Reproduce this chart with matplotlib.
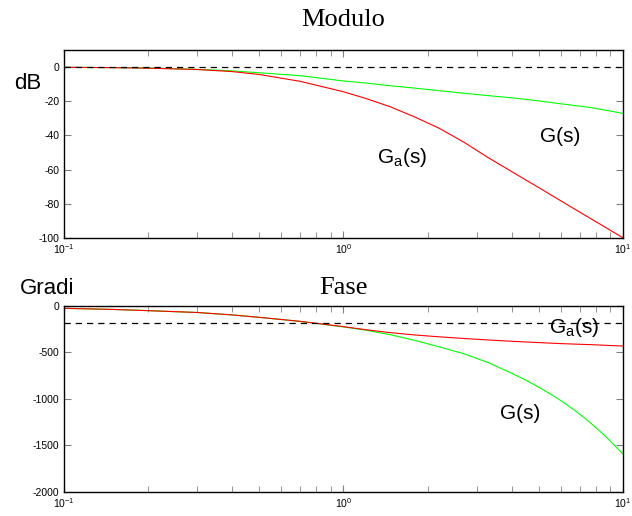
import matplotlib
matplotlib.use('Agg')
import matplotlib.pyplot as plt

# frequencies (rad/s)
w = [0.1, 0.15, 0.2, 0.3, 0.4, 0.5, 0.7, 1.0, 1.2, 1.47, 1.8, 2.2, 2.7, 3.3, 4.0,
     4.5, 5.0, 5.5, 6.0, 6.8, 7.6, 8.5, 9.2, 10.0]

# modulo (dB)
mag_G = [-0.1, -0.3, -0.5, -1.3, -2.2, -3.3, -5.0, -8.1, -9.3, -10.9, -12.3, -13.8, -15.3, -16.7, -18.0,
         -18.9, -19.8, -20.7, -21.5, -22.6, -23.6, -25.0, -26.0, -27.2]
mag_Ga = [-0.1, -0.3, -0.6, -1.4, -2.6, -4.3, -8.3, -14.4, -18.3, -23.2, -29.2, -35.8, -44.0, -53.1, -61.2,
          -66.2, -70.6, -74.7, -78.4, -83.7, -88.4, -93.1, -96.5, -100.0]

# fase (gradi)
ph_G = [-25, -37, -50, -70, -96, -122, -166, -225, -260, -309, -370, -440, -515, -610, -725,
        -800, -875, -948, -1020, -1136, -1252, -1382, -1484, -1596]
ph_Ga = [-25, -37, -50, -70, -96, -122, -165, -222, -255, -287, -312, -332, -350, -366, -380,
         -388, -394, -400, -405, -411, -416, -422, -427, -431]

mag_ticks = [0, -20, -40, -60, -80, -100]
ph_ticks = [0, -500, -1000, -1500, -2000]

plt.rcParams['font.family'] = ['Liberation Sans', 'DejaVu Sans']
plt.rcParams['mathtext.default'] = 'regular'
plt.rcParams['axes.unicode_minus'] = False

fig = plt.figure(figsize=(6.32, 5.16), dpi=100)
ax1 = fig.add_axes([0.1005, 0.539, 0.8855, 0.364])
ax2 = fig.add_axes([0.1005, 0.047, 0.8855, 0.360])


def style(ax):
    ax.set_xscale('log')
    ax.set_xlim(0.1, 10)
    ax.tick_params(which='both', direction='in', top=True, right=True,
                   color='#808080', labelsize=7.5, pad=3)
    ax.tick_params(which='major', length=5)
    ax.tick_params(which='minor', length=4)
    for s in ax.spines.values():
        s.set_linewidth(1.0)
        s.set_color('black')


ax1.plot(w, mag_G, color='#00ff00', lw=0.8)
ax1.plot(w, mag_Ga, color='#ff0000', lw=0.8)
ax1.axhline(0, color='black', lw=0.9, dashes=(5, 4))
style(ax1)
ax1.set_ylim(-100, 10)
ax1.set_yticks(mag_ticks)
ax1.text(5.98, -40.6, 'G(s)', fontsize=15, ha='center', va='center')
ax1.text(1.62, -53, 'G$_{a}$(s)', fontsize=15, ha='center', va='center')

ax2.plot(w, ph_G, color='#00ff00', lw=0.8)
ax2.plot(w, ph_Ga, color='#ff0000', lw=0.8)
ax2.axhline(-180, color='black', lw=0.9, dashes=(5, 4))
style(ax2)
ax2.set_ylim(-2000, 0)
ax2.set_yticks(ph_ticks)
ax2.text(6.7, -227, 'G$_{a}$(s)', fontsize=15, ha='center', va='center')
ax2.text(4.3, -1158, 'G(s)', fontsize=15, ha='center', va='center')

fig.text(0.543, 1 - 20 / 516, 'Modulo', fontsize=19, family='Liberation Serif',
         ha='center', va='center')
fig.text(0.543, 1 - 288 / 516, 'Fase', fontsize=19, family='Liberation Serif',
         ha='center', va='center')
fig.text(28 / 632, 1 - 83 / 516, 'dB', fontsize=16, ha='center', va='center')
fig.text(47 / 632, 1 - 289 / 516, 'Gradi', fontsize=16, ha='center', va='center')

fig.savefig('out.png', dpi=100)
